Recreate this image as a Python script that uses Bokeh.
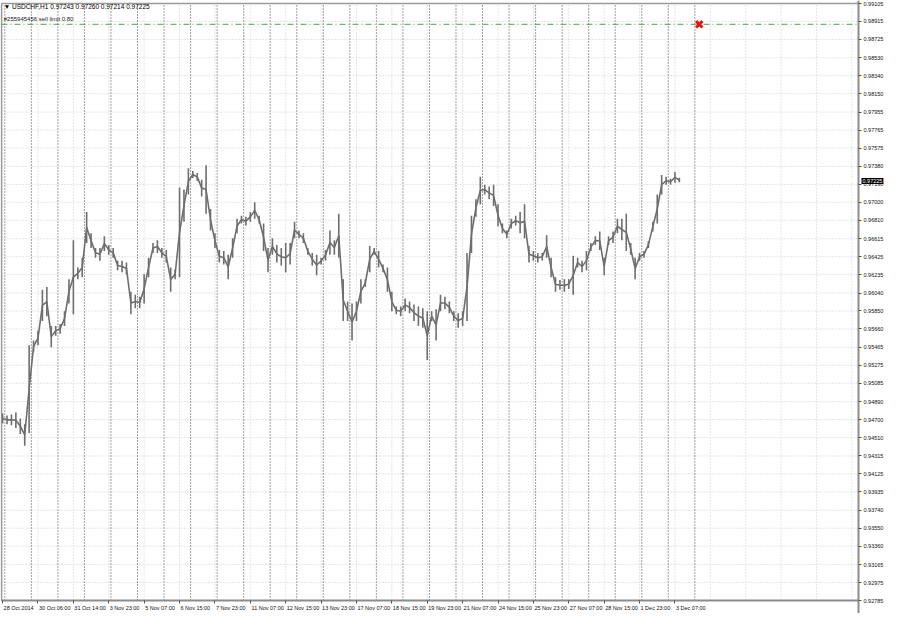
from bokeh.plotting import figure
from bokeh.models import FixedTicker, PrintfTickFormatter, Label, Range1d, ColumnDataSource, LinearAxis
from bokeh.embed import file_html
from bokeh.resources import INLINE

# ---------------- data ----------------
symbol_line = "\u25BC  USDCHF,H1  0.97243 0.97260 0.97214 0.97225"
order_text = "#255945456 sell limit 0.80"
last_close = 0.97225
sell_limit = 0.98885
order_bar = 630

bars_per_sample = 4
highs = [0.94764, 0.94744, 0.94754, 0.94775, 0.94713, 0.94651, 0.95486, 0.95538, 0.95641, 0.96074,
         0.96105, 0.95692, 0.95692, 0.95713, 0.95847, 0.96187, 0.96599, 0.96311, 0.96414, 0.96898,
         0.96672, 0.96517, 0.96517, 0.96641, 0.96548, 0.96517, 0.96383, 0.96383, 0.96362, 0.96053,
         0.96022, 0.96001, 0.96239, 0.96414, 0.96569, 0.96599, 0.96517, 0.96496, 0.96311, 0.96290,
         0.97156, 0.97136, 0.97362, 0.97331, 0.97311, 0.97239, 0.97393, 0.96929, 0.96672, 0.96496,
         0.96486, 0.96445, 0.96620, 0.96826, 0.96857, 0.96847, 0.96898, 0.97002, 0.96857, 0.96775,
         0.96517, 0.96620, 0.96548, 0.96517, 0.96569, 0.96569, 0.96795, 0.96703, 0.96672, 0.96517,
         0.96465, 0.96445, 0.96414, 0.96496, 0.96703, 0.96599, 0.96878, 0.96187, 0.95950, 0.95929,
         0.95950, 0.96187, 0.96187, 0.96538, 0.96517, 0.96486, 0.96342, 0.96311, 0.96053, 0.95898,
         0.95898, 0.95981, 0.95950, 0.95919, 0.95898, 0.95878, 0.95847, 0.95847, 0.95867, 0.96022,
         0.96001, 0.95950, 0.95847, 0.95826, 0.95847, 0.96465, 0.96857, 0.97032, 0.97270, 0.97187,
         0.97167, 0.97187, 0.96981, 0.96775, 0.96703, 0.96826, 0.96857, 0.96898, 0.96981, 0.96538,
         0.96486, 0.96465, 0.96465, 0.96651, 0.96414, 0.96208, 0.96177, 0.96187, 0.96187, 0.96434,
         0.96414, 0.96383, 0.96486, 0.96569, 0.96641, 0.96692, 0.96414, 0.96641, 0.96692, 0.96826,
         0.96826, 0.96878, 0.96569, 0.96414, 0.96465, 0.96486, 0.96589, 0.96795, 0.97084, 0.97290,
         0.97270, 0.97249, 0.97321, 0.97260]
lows = [0.94661, 0.94651, 0.94641, 0.94610, 0.94548, 0.94424, 0.94558, 0.95414, 0.95486, 0.95744,
        0.95795, 0.95465, 0.95589, 0.95610, 0.95692, 0.95929, 0.95816, 0.96187, 0.96208, 0.96569,
        0.96517, 0.96414, 0.96383, 0.96486, 0.96445, 0.96414, 0.96280, 0.96259, 0.96239, 0.95816,
        0.95878, 0.95878, 0.95929, 0.96208, 0.96465, 0.96465, 0.96414, 0.96362, 0.96053, 0.96187,
        0.96208, 0.96795, 0.97084, 0.97259, 0.97228, 0.97063, 0.96878, 0.96703, 0.96517, 0.96362,
        0.96342, 0.96187, 0.96414, 0.96672, 0.96775, 0.96754, 0.96795, 0.96826, 0.96775, 0.96486,
        0.96259, 0.96445, 0.96362, 0.96331, 0.96259, 0.96342, 0.96620, 0.96620, 0.96569, 0.96445,
        0.96331, 0.96228, 0.96342, 0.96383, 0.96445, 0.96445, 0.96414, 0.95744, 0.95744, 0.95538,
        0.95744, 0.95929, 0.96105, 0.96259, 0.96445, 0.96311, 0.96259, 0.96053, 0.95847, 0.95816,
        0.95795, 0.95847, 0.95826, 0.95744, 0.95692, 0.95672, 0.95331, 0.95744, 0.95538, 0.95847,
        0.95867, 0.95826, 0.95744, 0.95672, 0.95692, 0.95744, 0.96465, 0.96847, 0.96981, 0.97084,
        0.97032, 0.96960, 0.96744, 0.96672, 0.96620, 0.96723, 0.96754, 0.96672, 0.96620, 0.96362,
        0.96383, 0.96362, 0.96383, 0.96414, 0.96208, 0.96053, 0.96074, 0.96053, 0.96084, 0.96022,
        0.96311, 0.96259, 0.96280, 0.96486, 0.96548, 0.96496, 0.96228, 0.96548, 0.96569, 0.96672,
        0.96599, 0.96486, 0.96445, 0.96187, 0.96383, 0.96414, 0.96517, 0.96692, 0.96775, 0.97084,
        0.97187, 0.97187, 0.97208, 0.97214]

time_labels = ["28 Oct 2014", "30 Oct 06:00", "31 Oct 14:00", "3 Nov 23:00", "5 Nov 07:00",
               "6 Nov 15:00", "7 Nov 23:00", "11 Nov 07:00", "12 Nov 15:00", "13 Nov 23:00",
               "17 Nov 07:00", "18 Nov 15:00", "19 Nov 23:00", "21 Nov 07:00", "24 Nov 15:00",
               "25 Nov 23:00", "27 Nov 07:00", "28 Nov 15:00", "1 Dec 23:00", "3 Dec 07:00"]
bars_per_label = 32
day_start_bars = [2 + 24 * k for k in range(27)]

price_labels = ["0.99105", "0.98915", "0.98725", "0.98530", "0.98340", "0.98150", "0.97955",
                "0.97765", "0.97575", "0.97380", "0.97190", "0.97000", "0.96810", "0.96615",
                "0.96425", "0.96235", "0.96040", "0.95850", "0.95660", "0.95465", "0.95275",
                "0.95085", "0.94890", "0.94700", "0.94510", "0.94315", "0.94125", "0.93935",
                "0.93740", "0.93550", "0.93360", "0.93165", "0.92975", "0.92785"]

# ---------------- layout constants ----------------
W, H = 884, 613
FONT = "Liberation Sans"
FS = 5.5                      # label font size, px
x_start = -1                  # bar index at the chart's left border
chart_end = 774               # bar index at the price-axis line
price_ticks = [float(s) for s in price_labels]
y_lo, y_hi = min(price_ticks), max(price_ticks)

# pixel geometry: the frame fills the canvas; axes sit at fixed data locations inside it
left_px, axis_px = 1.0, 858.0       # canvas x of left border / price axis line
top_px, bottom_px = 3.0, 600.0      # canvas y of top price tick / time axis line
px_per_bar = (axis_px - left_px) / (chart_end - x_start)
px_per_price = (bottom_px - top_px) / (y_hi - y_lo)
x_range = Range1d(x_start - left_px / px_per_bar, x_start + (W - left_px) / px_per_bar)
y_range = Range1d(y_lo - (H - bottom_px) / px_per_price, y_hi + top_px / px_per_price)

_adv = {" ": 0.278, ":": 0.278, "O": 0.778, "N": 0.722, "D": 0.722,
        "c": 0.5, "t": 0.278, "o": 0.556, "v": 0.5, "e": 0.556}


def text_w(s):
    return sum(_adv.get(ch, 0.556) for ch in s) * FS


# ---------------- derived ----------------
bar_idx = [i * bars_per_sample for i in range(len(highs))]
mids = [(h + l) / 2 for h, l in zip(highs, lows)]
label_bars = [i * bars_per_label for i in range(len(time_labels))]
label_centers = [round(b + (text_w(t) / 2 + 1) / px_per_bar, 2) for b, t in zip(label_bars, time_labels)]
grid_bars = list(range(0, chart_end + 1, bars_per_label))

p = figure(width=W, height=H, output_backend="svg", toolbar_location=None,
           x_range=x_range, y_range=y_range,
           x_axis_location=None, y_axis_location=None,
           min_border_left=0, min_border_top=0, min_border_right=0, min_border_bottom=0)
p.background_fill_color = "white"
p.border_fill_color = "white"
p.outline_line_color = None
p.xgrid.visible = False
p.ygrid.visible = False

# light dotted grid, ending at the axes
n_y, n_x = len(price_ticks), len(grid_bars)
p.segment(x0=[x_start] * n_y, x1=[chart_end] * n_y, y0=price_ticks, y1=price_ticks,
          line_color="#cccccc", line_dash="1 2", line_width=1)
p.segment(x0=grid_bars, x1=grid_bars, y0=[y_lo] * n_x, y1=[y_hi] * n_x,
          line_color="#cccccc", line_dash="1 2", line_width=1)

# day separators
n_d = len(day_start_bars)
p.segment(x0=day_start_bars, x1=day_start_bars, y0=[y_lo] * n_d, y1=[y_hi] * n_d,
          line_color="#444444", line_dash="1 2", line_width=1)

# chart border (left / top)
p.segment(x0=[x_start, x_start], y0=[y_lo, y_hi], x1=[x_start, chart_end], y1=[y_hi, y_hi],
          line_color="#9a9a9a", line_width=1.5)

# price axis at the chart's right edge
yax = LinearAxis(ticker=FixedTicker(ticks=price_ticks), formatter=PrintfTickFormatter(format="%.5f"),
                 fixed_location=chart_end)
yax.major_label_standoff = 2
yax.major_tick_out = 3
p.add_layout(yax, "right")

# time axis at the chart's bottom: tick marks (minor) at label bars,
# labels centred half a label to the right so that they start at their tick
xax = LinearAxis(ticker=FixedTicker(ticks=label_centers, minor_ticks=label_bars),
                 fixed_location=y_lo, bounds=(x_start, chart_end))
xax.major_label_overrides = {c: t for c, t in zip(label_centers, time_labels)}
xax.major_tick_out = 0
xax.minor_tick_out = 3
xax.minor_tick_in = 0
xax.minor_tick_line_color = "#555555"
xax.major_label_standoff = 1
p.add_layout(xax, "below")

for ax in (xax, yax):
    ax.major_label_text_font = FONT
    ax.major_label_text_font_size = f"{FS}px"
    ax.major_label_text_color = "#111111"
    ax.axis_line_color = "#8c8c8c"
    ax.axis_line_width = 2
    ax.major_tick_line_color = "#555555"
    ax.major_tick_in = 0
yax.minor_tick_out = 0
yax.minor_tick_in = 0

# sell limit line
p.segment(x0=[x_start], x1=[chart_end], y0=[sell_limit], y1=[sell_limit],
          line_color="#43a843", line_dash="6 3 1 3", line_width=1)

# price series (hourly bars, sampled)
src = ColumnDataSource(dict(x=bar_idx, hi=highs, lo=lows, mid=mids))
p.segment(x0="x", y0="lo", x1="x", y1="hi", source=src, line_color="#6e6e6e", line_width=1.6)
p.line(x="x", y="mid", source=src, line_color="#6e6e6e", line_width=1.6)

# order marker
p.scatter(x=[order_bar], y=[sell_limit], marker="x", size=9, line_color="#ee1111", line_width=3)

# texts
p.add_layout(Label(x=1, y=y_hi, text=symbol_line, text_font=FONT,
                   text_font_size="6.5px", text_color="#000000", text_baseline="middle",
                   y_offset=-3))
p.add_layout(Label(x=1, y=sell_limit, text=order_text, text_font=FONT,
                   text_font_size="6px", text_color="#202020", text_baseline="bottom",
                   y_offset=2))
# current price box on the price scale
p.add_layout(Label(x=chart_end, y=last_close, text=f"{last_close:.5f}", text_font=FONT,
                   text_font_size=f"{FS}px", text_color="white", text_baseline="middle",
                   text_align="left", x_offset=3, background_fill_color="black", padding=1))

open("out.html", "w").write(file_html(p, INLINE))
